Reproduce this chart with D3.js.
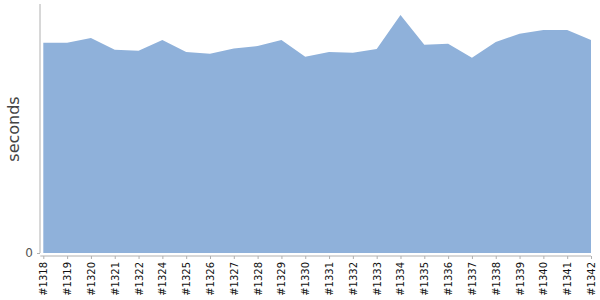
<!DOCTYPE html>
<html>
<head>
<meta charset="utf-8">
<script src="https://cdn.jsdelivr.net/npm/d3@7"></script>
<style>
  body { margin: 0; background: #fff; }
  svg { display: block; }
</style>
</head>
<body>
<svg id="chart" width="600" height="300"></svg>
<script>
const categories = ["#1318","#1319","#1320","#1321","#1322","#1324","#1325","#1326","#1327","#1328","#1329","#1330","#1331","#1332","#1333","#1334","#1335","#1336","#1337","#1338","#1339","#1340","#1341","#1342"];
const seconds = [210.3, 210.3, 215, 203.3, 202.3, 213, 201, 199.3, 204.5, 207, 213, 196.3, 201, 200.3, 204, 238, 208.3, 209.3, 195.3, 211, 219.3, 223, 223, 213];
const yTicks = [0];
const yMax = 249;

(function () {
const svg = d3.select("#chart");
const mLeft = 43.3, mRight = 591, mTop = 4, mBottom = 253;

const x = d3.scalePoint().domain(categories).range([mLeft, mRight]);
const y = d3.scaleLinear().domain([0, yMax]).range([mBottom, mTop]);

const data = categories.map((c, i) => ({ c, v: seconds[i] }));

svg.append("path")
  .datum(data)
  .attr("fill", "#8fb1da")
  .attr("d", d3.area().x(d => x(d.c)).y0(y(0)).y1(d => y(d.v)));

// y axis
const yAxis = svg.append("g").attr("transform", "translate(40,0)")
  .call(d3.axisLeft(y).tickValues(yTicks).tickSize(3).tickPadding(4).tickFormat(d3.format("d")));
yAxis.select(".domain").attr("d", `M0,${mTop}V${mBottom}`).attr("stroke", "#b0b0b0");
yAxis.selectAll(".tick line").attr("stroke", "#b0b0b0");
yAxis.selectAll(".tick text").attr("fill", "#555").attr("font-family", "DejaVu Sans, sans-serif").attr("font-size", 12);

// x axis
const xAxis = svg.append("g").attr("transform", "translate(0,256)")
  .call(d3.axisBottom(x).tickSize(3).tickPadding(4));
xAxis.select(".domain").attr("d", `M${mLeft - 3},0H${mRight}`).attr("stroke", "#b0b0b0");
xAxis.selectAll(".tick line").attr("stroke", "#b0b0b0");
xAxis.selectAll(".tick text")
  .attr("font-family", "DejaVu Sans, sans-serif")
  .attr("font-size", 10)
  .attr("fill", "#111")
  .attr("transform", "rotate(-90)")
  .attr("text-anchor", "end")
  .attr("dy", "0.35em")
  .attr("x", -6)
  .attr("y", 0);

svg.append("text")
  .attr("transform", "translate(19,129) rotate(-90)")
  .attr("text-anchor", "middle")
  .attr("font-family", "DejaVu Sans, sans-serif")
  .attr("font-size", 16)
  .attr("fill", "#444")
  .text("seconds");
})();
</script>
</body>
</html>
